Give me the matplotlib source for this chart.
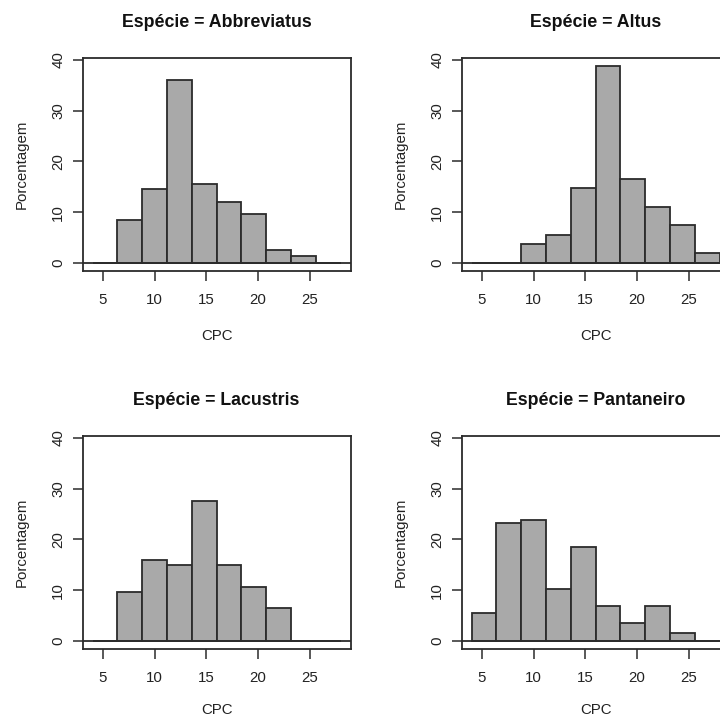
import numpy as np
import matplotlib
matplotlib.use('Agg')
import matplotlib.pyplot as plt

plt.rcParams['font.family'] = ['Liberation Sans', 'DejaVu Sans']

# classes do histograma (CPC), de 4 a 28 passo 2.4
quebras = [4.0, 6.4, 8.8, 11.2, 13.6, 16.0, 18.4, 20.8, 23.2, 25.6, 28.0]

especies = ['Abbreviatus', 'Altus', 'Lacustris', 'Pantaneiro']
abbreviatus = [0, 8.4, 14.5, 36.1, 15.6, 12.1, 9.6, 2.5, 1.3, 0]
altus = [0, 0, 3.8, 5.6, 14.8, 38.8, 16.6, 11.1, 7.5, 1.9]
lacustris = [0, 9.7, 15.9, 14.9, 27.6, 14.9, 10.7, 6.5, 0, 0]
pantaneiro = [5.6, 23.3, 23.9, 10.3, 18.5, 6.9, 3.5, 6.9, 1.5, 0]
porcentagens = [abbreviatus, altus, lacustris, pantaneiro]

xticks = [5, 10, 15, 20, 25]
yticks = [0, 10, 20, 30, 40]

W, H = 720, 719
fig = plt.figure(figsize=(W / 100, H / 100), dpi=100)

# caixas em pixel: (esquerda, topo)
caixas = [(82.7, 58.0), (461.7, 58.0), (82.7, 436.0), (461.7, 436.0)]
larg, alt = 267.8, 212.7
escuro = '#2b2b2b'

for i, ((x0, y0), nome, vals) in enumerate(zip(caixas, especies, porcentagens)):
    ax = fig.add_axes([x0 / W, 1 - (y0 + alt) / H, larg / W, alt / H])
    centros = (np.array(quebras[:-1]) + np.array(quebras[1:])) / 2
    ax.bar(centros, vals, width=np.diff(quebras), color='#a9a9a9',
           edgecolor=escuro, linewidth=1.3, zorder=2)
    ax.axhline(0, color=escuro, linewidth=1.3, zorder=3)
    ax.set_xlim(3.04, 28.96)
    ax.set_ylim(-1.5, 40.35)
    ax.set_xticks(xticks)
    ax.set_yticks(yticks)
    ax.tick_params(axis='both', direction='out', length=7, width=1.1,
                   color=escuro, labelsize=10.8, labelcolor='#222222')
    ax.tick_params(axis='x', pad=9.3)
    ax.tick_params(axis='y', pad=5.5, labelrotation=90)
    for lab in ax.get_yticklabels():
        lab.set_va('center')
    for s in ax.spines.values():
        s.set_color(escuro)
        s.set_linewidth(1.3)
    ax.set_title('Espécie = ' + nome, fontsize=12.8, fontweight='bold',
                 pad=22, color='#111111')
    ax.set_xlabel('CPC', fontsize=10.8, color='#222222')
    ax.xaxis.label.set_va('baseline')
    desl = 69.0 if i < 2 else 65.5
    ax.xaxis.set_label_coords(0.5, -desl / alt)
    ax.set_ylabel('Porcentagem', fontsize=10.8, color='#222222')
    ax.yaxis.label.set_va('baseline')
    ax.yaxis.set_label_coords(-57.0 / larg, 0.5)

fig.savefig('out.png', dpi=100)
